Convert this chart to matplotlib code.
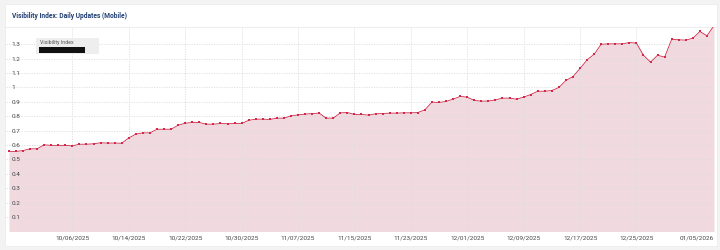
import matplotlib
matplotlib.use("Agg")
import matplotlib.pyplot as plt
import matplotlib.dates as mdates
from matplotlib.patches import Rectangle
import pandas as pd

# daily visibility index values, 09/27/2025 .. 01/05/2026
start_date = "2025-09-27"
end_date = "2026-01-05"
values = [
    0.556, 0.556, 0.562, 0.574,
    0.574, 0.602, 0.598, 0.598, 0.598, 0.595, 0.606, 0.606, 0.609, 0.616,
    0.614, 0.614, 0.613, 0.650, 0.676, 0.685, 0.685, 0.710, 0.710, 0.710,
    0.738, 0.752, 0.757, 0.757, 0.745, 0.745, 0.750, 0.748, 0.750, 0.750,
    0.772,
    0.780, 0.780, 0.778, 0.787, 0.787, 0.803, 0.810, 0.815, 0.819, 0.822,
    0.787, 0.787, 0.824, 0.826, 0.813, 0.813, 0.808, 0.817, 0.819, 0.822,
    0.822, 0.824, 0.824, 0.826, 0.845, 0.898, 0.896, 0.903, 0.919, 0.938,
    0.933, 0.910, 0.905, 0.906, 0.914, 0.926, 0.926, 0.919, 0.933, 0.951,
    0.974, 0.974, 0.979, 1.000, 1.049, 1.076, 1.132, 1.192, 1.231, 1.300,
    1.303, 1.303, 1.303, 1.312, 1.308, 1.224, 1.176, 1.224, 1.211, 1.335,
    1.331,
    1.329, 1.342, 1.389, 1.359, 1.43,
]
dates = pd.date_range(start_date, end_date, freq="D")

tick_dates = ["2025-10-06", "2025-10-14", "2025-10-22", "2025-10-30",
              "2025-11-07", "2025-11-15", "2025-11-23", "2025-12-01",
              "2025-12-09", "2025-12-17", "2025-12-25", "2026-01-05"]
y_ticks = [0.1, 0.2, 0.3, 0.4, 0.5, 0.6, 0.7, 0.8, 0.9, 1.0, 1.1, 1.2, 1.3]
y_labels = ["0.1", "0.2", "0.3", "0.4", "0.5", "0.6", "0.7", "0.8", "0.9",
            "1", "1.1", "1.2", "1.3"]

title = "Visibility Index: Daily Updates (Mobile)"
legend_label = "Visibility Index"

line_color = "#cf2a4b"
fill_color = "#f1dadf"

plt.rcParams["font.family"] = ["Roboto", "DejaVu Sans"]

W, H = 720, 250
fig = plt.figure(figsize=(W / 100, H / 100), dpi=100, facecolor="#f3f3f3")

# white card behind the chart
fig.patches.append(Rectangle((5 / W, 4 / H), 712 / W, 242 / H,
                             transform=fig.transFigure, facecolor="white",
                             edgecolor="#ececec", linewidth=0.6, zorder=-10))
fig.lines.append(plt.Line2D([5 / W, 717 / W], [1 - 27 / H, 1 - 27 / H],
                            transform=fig.transFigure, color="#eeeeee",
                            linewidth=0.8, zorder=-5))
fig.text(12 / W, 1 - 16 / H, title, fontsize=4.8, fontweight="bold",
         color="#1f3d73", va="center", ha="left")

ax = fig.add_axes([6 / W, 1 - 231.5 / H, 708 / W, 204.5 / H])
ax.set_facecolor("none")

ax.fill_between(dates, values, 0, color=fill_color, linewidth=0, zorder=1)
ax.plot(dates, values, color=line_color, linewidth=0.6, marker="s",
        markersize=1.8, markeredgewidth=0, zorder=3)

ax.set_xlim(pd.Timestamp(start_date) - pd.Timedelta(hours=10),
            pd.Timestamp(end_date))
ax.set_ylim(0, 1.42)

ax.set_yticks(y_ticks)
ax.set_yticklabels(y_labels)
ticks = pd.to_datetime(tick_dates)
ax.set_xticks(ticks)
ax.xaxis.set_major_formatter(mdates.DateFormatter("%m/%d/%Y"))

ax.tick_params(axis="y", length=0, pad=-3.8, labelsize=4.6,
               labelcolor="#444444")
for lab in ax.get_yticklabels():
    lab.set_horizontalalignment("left")
ax.tick_params(axis="x", length=0, pad=3.0, labelsize=4.6,
               labelcolor="#444444")
fig.canvas.draw()
xl = ax.get_xticklabels()
xl[-1].set_horizontalalignment("right")

ax.grid(True, color="#dddddd", linestyle=(0, (1.5, 1.5)), linewidth=0.6,
        zorder=2)
ax.set_axisbelow(False)
for s in ax.spines.values():
    s.set_visible(False)

# legend box (with redacted swatch)
fig.patches.append(Rectangle((36 / W, 1 - 54 / H), 63 / W, 16 / H,
                             transform=fig.transFigure, facecolor="#eeeeee",
                             edgecolor="none", zorder=5))
fig.text(40 / W, 1 - 43 / H, legend_label, fontsize=3.8, color="#555555",
         va="center", ha="left", zorder=6)
fig.patches.append(Rectangle((39 / W, 1 - 52.5 / H), 46 / W, 5.5 / H,
                             transform=fig.transFigure, facecolor="#111111",
                             edgecolor="none", zorder=6))

fig.savefig("out.png", dpi=100, facecolor=fig.get_facecolor())
